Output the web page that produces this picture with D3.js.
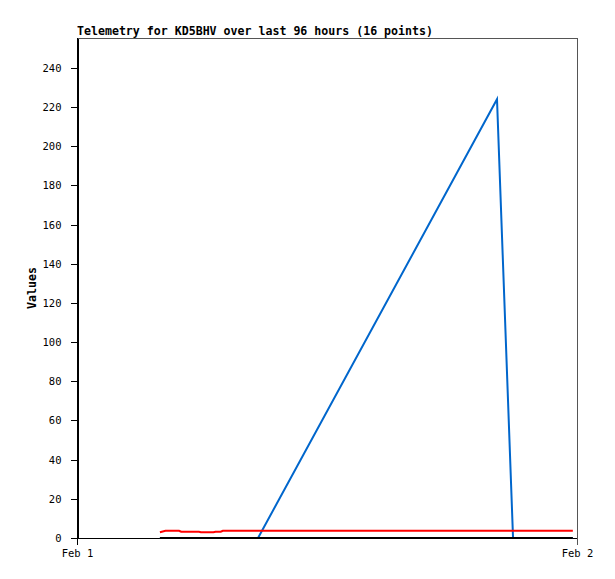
<!DOCTYPE html>
<html><head><meta charset="utf-8">
<script src="https://cdn.jsdelivr.net/npm/d3@7"></script>
<style>body{margin:0;background:#fff}svg{display:block}</style>
</head><body>
<svg id="c" width="615" height="579"></svg>
<script>
const titleText = "Telemetry for KD5BHV over last 96 hours (16 points)";
const yLabel = "Values";
// hours after Feb 1 00:00
const hours = [3.98, 4.25, 4.9, 5.0, 5.85, 5.95, 6.55, 6.65, 6.9, 7.0, 8.69, 20.16, 20.93, 22.0, 23.0, 23.8];
const redValues   = [2.9, 3.7, 3.7, 3.2, 3.2, 2.9, 2.9, 3.2, 3.2, 3.7, 3.7, 3.7, 3.7, 3.7, 3.7, 3.7];
const blueValues  = [0, 0, 0, 0, 0, 0, 0, 0, 0, 0, 0, 224, 0, 0, 0, 0];
const blackValues = [0, 0, 0, 0, 0, 0, 0, 0, 0, 0, 0, 0, 0, 0, 0, 0];
const yTicks = [0, 20, 40, 60, 80, 100, 120, 140, 160, 180, 200, 220, 240];
const xTickDates = [new Date(2024, 1, 1), new Date(2024, 1, 2)];

const svg = d3.select("#c");
const m = {l: 77, r: 577, t: 38, b: 538};
const x = d3.scaleTime().domain(xTickDates).range([m.l, m.r]);
const y = d3.scaleLinear().domain([0, 255.3]).range([m.b, m.t]);
const base = xTickDates[0].getTime();
const times = hours.map(h => new Date(base + h * 3600e3));
const font = "'DejaVu Sans Mono', monospace";

// frame top and right
svg.append("line").attr("x1", m.l).attr("x2", m.r + 0.5).attr("y1", m.t + 0.5).attr("y2", m.t + 0.5)
  .attr("stroke", "#555").attr("shape-rendering", "crispEdges");
svg.append("line").attr("x1", m.r + 0.5).attr("x2", m.r + 0.5).attr("y1", m.t).attr("y2", m.b)
  .attr("stroke", "#555").attr("shape-rendering", "crispEdges");

// y axis
const ya = svg.append("g").attr("transform", `translate(${m.l + 0.5},0)`)
  .call(d3.axisLeft(y).tickValues(yTicks).tickSize(7).tickPadding(9).tickSizeOuter(0));
ya.select(".domain").attr("stroke", "#000").attr("shape-rendering", "crispEdges");
ya.selectAll(".tick line").attr("stroke", "#000").attr("shape-rendering", "crispEdges");
ya.selectAll("text").attr("font-family", font).attr("font-size", "10.5px").attr("fill", "#000");
// extend left axis downwards
svg.append("line").attr("x1", m.l + 0.5).attr("x2", m.l + 0.5).attr("y1", m.t).attr("y2", m.b + 7)
  .attr("stroke", "#000").attr("shape-rendering", "crispEdges");

// x axis ticks
const xa = svg.append("g").attr("transform", `translate(0,${m.b})`)
  .call(d3.axisBottom(x).tickValues(xTickDates).tickFormat(d3.timeFormat("%b %-d")).tickSize(7).tickPadding(5).tickSizeOuter(0));
xa.select(".domain").attr("stroke", "#000").attr("shape-rendering", "crispEdges");
xa.selectAll(".tick line").attr("stroke", "#000").attr("shape-rendering", "crispEdges");
xa.selectAll(".tick").filter((d, i) => i === 1).select("line").attr("stroke", "#555");
xa.selectAll("text").attr("font-family", font).attr("font-size", "10.5px").attr("fill", "#000");

// title
svg.append("text").attr("x", m.l).attr("y", 35).attr("font-family", font)
  .attr("font-weight", "bold").attr("font-size", "11.6px").text(titleText);
// y label
svg.append("text").attr("transform", `translate(36,${(m.t + m.b) / 2}) rotate(-90)`)
  .attr("text-anchor", "middle").attr("font-family", font).attr("font-weight", "bold")
  .attr("font-size", "11.6px").text(yLabel);

const line = d3.line().x((d, i) => x(times[i])).y(d => y(d));
const series = [
  {v: blueValues, c: "#0066cc"},
  {v: redValues, c: "#ff0000"},
  {v: blackValues, c: "#000000"}
];
series.forEach(s => {
  svg.append("path").datum(s.v).attr("d", line).attr("fill", "none")
    .attr("stroke", s.c).attr("stroke-width", 2);
});
</script>
</body></html>
